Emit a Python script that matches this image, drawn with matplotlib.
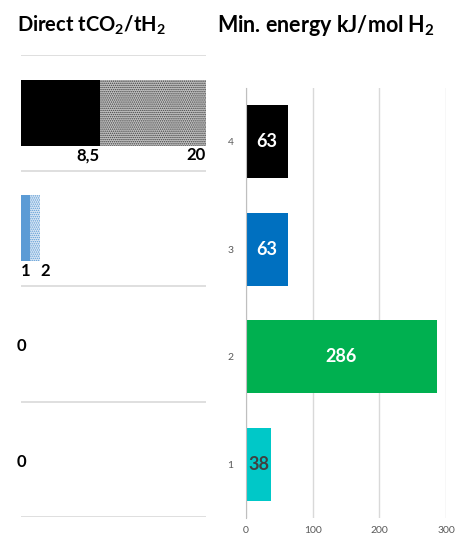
import matplotlib
matplotlib.use("Agg")
import matplotlib.pyplot as plt
import numpy as np

plt.rcParams['font.family'] = ['Lato', 'DejaVu Sans']
plt.rcParams['mathtext.fontset'] = 'custom'
plt.rcParams['mathtext.rm'] = 'Lato:bold'
plt.rcParams['mathtext.bf'] = 'Lato:bold'
plt.rcParams['hatch.linewidth'] = 0.7

# Rows, bottom to top
categories = [1, 2, 3, 4]
tick_labels = ["1", "2", "3", "4"]

# Direct emissions: lower and upper estimate (t CO2 / t H2)
direct_low = [0, 0, 1, 8.5]
direct_high = [0, 0, 2, 20]
direct_low_labels = ["0", "0", "1", "8,5"]
direct_high_labels = ["", "", "2", "20"]
direct_colors = ["#5B9BD5", "#5B9BD5", "#5B9BD5", "#000000"]
range_face = ["#DCE8F5", "#DCE8F5", "#DCE8F5", "#C4C4C4"]
range_dots = ["#5B9BD5", "#5B9BD5", "#5B9BD5", "#404040"]

# Minimum energy (kJ / mol H2)
energy = [38, 286, 63, 63]
energy_colors = ["#00C8C8", "#00B050", "#0070C0", "#000000"]
energy_label_colors = ["#404040", "white", "white", "white"]

W, H = 462, 540
fig = plt.figure(figsize=(W / 100, H / 100), dpi=100)

# ---- left panel: direct CO2 ----
axl = fig.add_axes([21 / W, (H - 517) / H, 185 / W, 462 / H])
axl.set_xlim(0, 20)
axl.set_ylim(0.5, 4.5)
axl.axis("off")
for y in np.arange(0.5, 4.6, 1.0):
    axl.axhline(y, color="#D9D9D9", lw=1.2, zorder=0)

bh = 0.57
for c, lo, col in zip(categories, direct_low, direct_colors):
    if lo > 0:
        axl.barh(c, lo, height=bh, color=col, lw=0, zorder=2)
for c, lo, hi, fc, dc in zip(categories, direct_low, direct_high, range_face, range_dots):
    if hi > lo:
        axl.barh(c, hi - lo, left=lo, height=bh, facecolor=fc,
                 edgecolor=dc, hatch="........", lw=0, zorder=2)

lab_kw = dict(fontsize=12, fontweight="bold", color="black", va="center")
for c, lo, hi, llab, hlab in zip(categories, direct_low, direct_high,
                                   direct_low_labels, direct_high_labels):
    if hi == 0:
        axl.text(0, c - 0.02, llab, ha="center", clip_on=False, **lab_kw)
        continue
    ly = c - 0.37
    axl.text(lo, ly, llab, ha="right", **lab_kw)
    if hi - lo < 3:
        axl.text(hi + 0.1, ly, hlab, ha="left", **lab_kw)
    else:
        axl.text(hi, ly, hlab, ha="right", **lab_kw)

fig.text(17 / W, 1 - 25 / H, r"Direct tCO$_2$/tH$_2$", fontsize=14.5,
         fontweight="bold", va="center", ha="left")

# ---- right panel: minimum energy ----
axr = fig.add_axes([246 / W, (H - 518) / H, 200 / W, 430 / H])
axr.barh(categories, energy, height=0.675, color=energy_colors, lw=0, zorder=2)
axr.set_xlim(0, 300)
axr.set_ylim(0.5, 4.5)
axr.set_xticks([0, 100, 200, 300])
axr.set_yticks(categories)
axr.set_yticklabels(tick_labels)
axr.grid(axis="x", color="#D9D9D9", lw=1, zorder=0)
for s in ["top", "right", "bottom"]:
    axr.spines[s].set_visible(False)
axr.spines["left"].set_color("#BFBFBF")
axr.tick_params(axis="both", length=0, labelsize=7.5, colors="#595959")
axr.tick_params(axis="y", pad=9)
axr.tick_params(axis="x", pad=6)

for c, v, tc in zip(categories, energy, energy_label_colors):
    axr.text(v / 2, c, f"{v}", ha="center", va="center", fontsize=13,
             fontweight="bold", color=tc, zorder=3)

fig.text(217 / W, 1 - 25 / H, r"Min. energy kJ/mol H$_2$", fontsize=15.5,
         fontweight="bold", va="center", ha="left")

fig.savefig("out.png", dpi=100, facecolor="white")
